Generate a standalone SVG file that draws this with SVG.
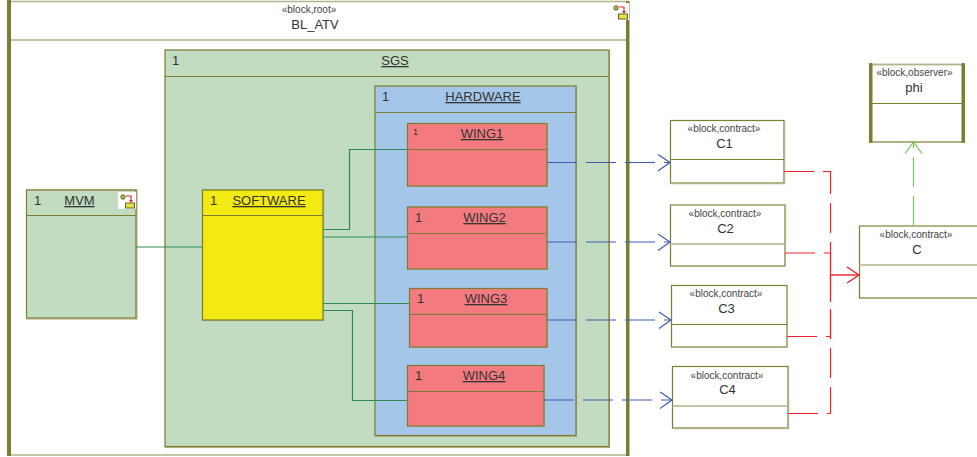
<svg xmlns="http://www.w3.org/2000/svg" xmlns:xlink="http://www.w3.org/1999/xlink" width="977" height="457" viewBox="0 0 977 457">
<style>
text{font-family:"Liberation Sans",Arial,sans-serif;font-size:13px;fill:#333;text-anchor:middle}
.st{font-size:10px;fill:#444}
.nm{text-decoration:underline}
.n{text-anchor:start}
.sh{fill:none;stroke:#b4b48a;stroke-width:1.2}
.b{stroke:#7c7c32;stroke-width:1.2}
.lt{stroke:#b4b48a;stroke-width:1.5;fill:none}
.d{stroke:#7c7c32;stroke-width:1.2;fill:none}
.g{fill:#c1dcc0}.bl{fill:#a4c6e8}.r{fill:#f37b80}.y{fill:#f2ea12}.w{fill:#fff}
.bar{fill:#7c7c32}
.cg{fill:none;stroke:#2e8b57;stroke-width:1.2}
.cb{fill:none;stroke:#3d5cb0;stroke-width:1.2;stroke-dasharray:30 9}
.cr{fill:none;stroke:#f0202c;stroke-width:1.2;stroke-dasharray:30 9}
.cp{fill:none;stroke:#7ac45a;stroke-width:1.2;stroke-dasharray:30 9}
.hb{fill:none;stroke:#3d5cb0;stroke-width:1.2}
.hr{fill:none;stroke:#f0202c;stroke-width:1.4}
.hp{fill:none;stroke:#7ac45a;stroke-width:1.2}
</style>
<defs>
<g id="ico">
<rect x="0" y="0" width="18" height="17" fill="#fff"/>
<circle cx="5" cy="5" r="2.2" fill="#b8b83c" stroke="#5c6a2c"/>
<path d="M8 4H13V9" fill="none" stroke="#e03030" stroke-width="1.2"/>
<path d="M11 8H15L13 11Z" fill="#e03030"/>
<rect x="7.5" y="11" width="9" height="5" fill="#e8e040" stroke="#5c6a2c"/>
</g>
</defs>

<rect width="977" height="457" fill="#fff"/>

<g id="BL_ATV">
<rect class="w" x="8" y="1" width="620" height="454"/>
<path class="lt" d="M8 1.5H628M10 455H628M11 40H626"/>
<rect class="bar" x="7" y="0" width="4" height="456"/>
<rect class="bar" x="626" y="1" width="3.5" height="455"/>
<text class="st" x="309" y="13">«block,root»</text>
<text x="315" y="29">BL_ATV</text>
<use xlink:href="#ico" x="611" y="3"/>
</g>

<g id="MVM">
<rect class="sh" x="27" y="190" width="110" height="129"/>
<rect class="g b" x="26.500" y="190" width="109.500" height="128"/>
<path class="d" d="M26.500 215.500H136"/>
<text class="n" x="34" y="205">1</text>
<text class="nm" x="79.500" y="205">MVM</text>
<use xlink:href="#ico" x="118" y="192"/>
</g>

<g id="SGS">
<rect class="sh" x="165.500" y="50.500" width="444" height="397"/>
<rect class="g b" x="165" y="50" width="444" height="396.500"/>
<path class="d" d="M165 76.500H609"/>
<text class="n" x="172" y="65">1</text>
<text class="nm" x="395" y="65">SGS</text>
</g>

<g id="HARDWARE">
<rect class="sh" x="375.500" y="86.500" width="201" height="350"/>
<rect class="bl b" x="375" y="86" width="201" height="349.500"/>
<path class="d" d="M375 112.500H576"/>
<text class="n" x="382" y="101">1</text>
<text class="nm" x="483" y="101">HARDWARE</text>
</g>

<g id="SOFTWARE">
<rect class="sh" x="202.500" y="190" width="121" height="130.500"/>
<rect class="y b" x="202.500" y="190" width="120.500" height="130"/>
<path class="d" d="M202.500 215.500H323"/>
<text class="n" x="210" y="205">1</text>
<text class="nm" x="269" y="205">SOFTWARE</text>
</g>

<g id="WING1">
<rect class="sh" x="407.500" y="123.500" width="140" height="63"/>
<rect class="r b" x="407.500" y="123.500" width="139.500" height="62.500"/>
<path class="d" d="M407.500 149.500H547"/>
<text class="n" x="413" y="135" style="font-size:9px">1</text>
<text class="nm" x="482" y="138">WING1</text>
</g>

<g id="WING2">
<rect class="sh" x="407.500" y="207" width="140" height="62.500"/>
<rect class="r b" x="407.500" y="207" width="139.500" height="62"/>
<path class="d" d="M407.500 233.500H547"/>
<text class="n" x="415" y="222">1</text>
<text class="nm" x="484.500" y="222">WING2</text>
</g>

<g id="WING3">
<rect class="sh" x="409.500" y="288.500" width="138" height="59"/>
<rect class="r b" x="409.500" y="288.500" width="137.500" height="58.500"/>
<path class="d" d="M409.500 314.500H547"/>
<text class="n" x="417" y="303">1</text>
<text class="nm" x="486" y="303">WING3</text>
</g>

<g id="WING4">
<rect class="sh" x="407.500" y="365.500" width="137" height="61"/>
<rect class="r b" x="407.500" y="365.500" width="136.500" height="60.500"/>
<path class="d" d="M407.500 391.500H544"/>
<text class="n" x="415" y="380">1</text>
<text class="nm" x="484" y="380">WING4</text>
</g>

<g id="C1">
<rect class="w b" x="670.500" y="120.500" width="113.500" height="62.500"/>
<path class="lt" d="M784.500 121V183.500H671"/>
<path class="d" d="M670.500 159.500H784"/>
<text class="st" x="724" y="132">«block,contract»</text>
<text x="724.500" y="148">C1</text>
</g>

<g id="C2">
<rect class="w b" x="670.500" y="205" width="114.500" height="61"/>
<path class="lt" d="M670.500 205H785.500V244M670.500 244H785"/>
<text class="st" x="725" y="216.500">«block,contract»</text>
<text x="725.500" y="233">C2</text>
</g>

<g id="C3">
<rect class="w b" x="671.500" y="285.500" width="115.500" height="61.500"/>
<path class="d" d="M671.500 324.500H787"/>
<text class="st" x="726" y="296.500">«block,contract»</text>
<text x="726.500" y="313">C3</text>
</g>

<g id="C4">
<rect class="w b" x="672.500" y="366.500" width="115.500" height="61.500"/>
<path class="lt" d="M788.500 367V428.500H673M672.500 406H788"/>
<text class="st" x="727" y="379">«block,contract»</text>
<text x="727.500" y="394">C4</text>
</g>

<g id="C">
<rect class="w b" x="859.500" y="226" width="118.500" height="72"/>
<path class="lt" d="M859.500 226H978M859.500 265H978"/>
<text class="st" x="916" y="237.500">«block,contract»</text>
<text x="917" y="254">C</text>
</g>

<g id="phi">
<rect class="w b" x="870.500" y="64.500" width="92.500" height="77.500"/>
<path class="lt" d="M870 64.500H963"/>
<path class="d" d="M870.500 103.500H963"/>
<rect class="bar" x="869" y="63" width="3.500" height="80" rx="1"/>
<rect class="bar" x="961.500" y="63" width="3.500" height="80" rx="1"/>
<text class="st" x="914.500" y="75.700">«block,observer»</text>
<text x="914" y="92">phi</text>
</g>

<g id="connectors">
<path class="cg" d="M136 247H202"/>
<path class="cg" d="M323 229.500H349.500V149.500H407"/>
<path class="cg" d="M323 237H407"/>
<path class="cg" d="M323 303.500H409"/>
<path class="cg" d="M323 310.500H352.500V400.500H407"/>

<path class="cb" d="M547 162.500H670"/>
<path class="hb" d="M658 154.500L670 162.500L658 171"/>
<path class="cb" d="M547 242H670"/>
<path class="hb" d="M658 234L670 242L658 250.500"/>
<path class="cb" d="M547 320H671"/>
<path class="hb" d="M659 312L671 320L659 328.500"/>
<path class="cb" d="M544 400H672"/>
<path class="hb" d="M660 392L672 400L660 408.500"/>

<path class="cr" d="M784 171.500H830.500V275"/>
<path class="cr" d="M785 253H830.500V275"/>
<path class="cr" d="M787 336.500H830.500V275"/>
<path class="cr" d="M788 413.500H830.500V275"/>
<path class="hr" d="M830.500 275H859"/>
<path class="hr" d="M847 267L859 275L847 283"/>

<path class="cp" d="M913.500 226V142"/>
<path class="hp" d="M905 153.500L913.500 142L922 153.500"/>
</g>
</svg>
